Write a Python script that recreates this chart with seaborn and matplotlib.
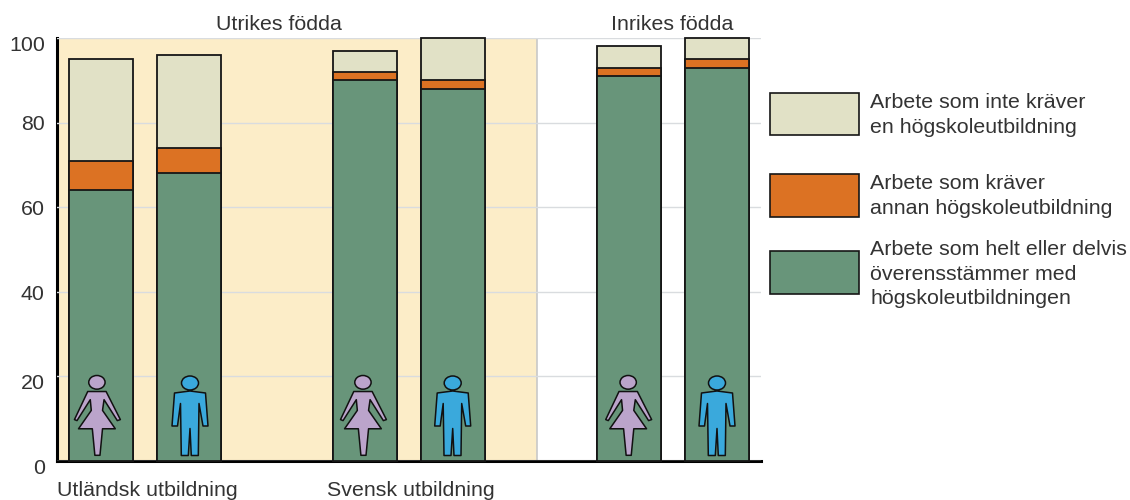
import matplotlib
matplotlib.use("Agg")
import matplotlib.pyplot as plt
from matplotlib.patches import Rectangle
from matplotlib.path import Path
from matplotlib.transforms import ScaledTranslation
import pandas as pd
import seaborn as sns

# varden avlasta fran bilden (procent)
grupper = ["ut_k", "ut_m", "gap1", "sv_k", "sv_m", "gap2", "in_k", "in_m"]
staplar = ["ut_k", "ut_m", "sv_k", "sv_m", "in_k", "in_m"]
kon = ["k", "m", "k", "m", "k", "m"]
overens = [64, 68, 90, 88, 91, 93]
annan = [7, 6, 2, 2, 2, 2]
inte_krav = [24, 22, 5, 10, 5, 5]
yticks = [0, 20, 40, 60, 80, 100]

legend_texter = ["Arbete som inte kräver\nen högskoleutbildning",
                 "Arbete som kräver\nannan högskoleutbildning",
                 "Arbete som helt eller delvis\növerensstämmer med\nhögskoleutbildningen"]

GRON = "#68957a"
ORANGE = "#dc7223"
BEIGE = "#e1e1c6"
BAKGRUND = "#fcedc8"
KVINNA = "#bba4cb"
MAN = "#3aa9dc"
TEXT = "#333333"
FS = 15.4

W, H = 1130, 500


def ikon(kropp, huvud, dx):
    # kropp + ellips till en enda marker-path, dx = forskjutning i pixlar fran stapelns mitt
    cx, cy, rx, ry = huvud
    cirkel = Path.unit_circle()
    verts = [(dx + cx + x * rx, cy + y * ry) for x, y in cirkel.vertices]
    kropp = [(x + dx, y) for x, y in kropp]
    kropp_path = Path(kropp + [kropp[0]], closed=True)
    return Path.make_compound_path(kropp_path, Path(verts, cirkel.codes))


# pixlar relativt ikonens mitt, y uppat
KVINNA_KROPP = [(-9, 23.5), (9, 23.5), (23, -4), (20, -5), (7, 15.5), (5.5, 5), (18, -13), (5.5, -13), (3, -39),
                (-2, -39), (-4.5, -13), (-18, -13), (-5.5, 5), (-6.5, 15.5), (-19.5, -5), (-22, -4)]
MAN_KROPP = [(-15.5, 22.5), (0, 24.5), (15.5, 22.5), (18, -10.5), (13, -10.5), (9, 12), (8.3, -40), (1.3, -40),
             (0, -13), (-1.7, -40), (-8.7, -40), (-9.5, 12), (-12.5, -10.5), (-18, -10.5)]

df = pd.DataFrame({"grupp": staplar, "kon": kon, "overens": overens, "annan": annan, "inte_krav": inte_krav})
df["mitten"] = df["overens"] + df["annan"]
df["topp"] = df["mitten"] + df["inte_krav"]
df["ikon_y"] = 10.9
df["dx"] = [-4.5, 0.5, -2.5, -0.8, -1.3, -0.5]

plt.rcParams["font.family"] = ["Liberation Sans", "DejaVu Sans"]
fig = plt.figure(figsize=(W / 100, H / 100), dpi=100)
ax = fig.add_axes([57 / W, 1 - 461 / H, (761 - 57) / W, (461 - 38) / H])

# rita uppifran och ner, varje lager tacker det under
for kol, farg in [("topp", BEIGE), ("mitten", ORANGE), ("overens", GRON)]:
    sns.barplot(data=df, x="grupp", y=kol, order=grupper, color=farg, saturation=1, width=0.716,
                edgecolor="#161616", linewidth=1.3, errorbar=None, ax=ax, zorder=3, clip_on=False)

for _, rad in df.iterrows():
    if rad["kon"] == "k":
        marker = ikon(KVINNA_KROPP, (0, 32.5, 8, 6.7), rad["dx"])
        farg = KVINNA
    else:
        marker = ikon(MAN_KROPP, (0, 32.5, 8.5, 7), rad["dx"])
        farg = MAN
    sns.scatterplot(data=df[df["grupp"] == rad["grupp"]], x="grupp", y="ikon_y", marker=marker, s=3318,
                    color=farg, edgecolor="#111111", linewidth=1.1, ax=ax, zorder=4, legend=False)

ax.set_xlim(-0.5, 7.5)
ax.set_ylim(0, 100)
ax.axvspan(-0.5, 4.95, color=BAKGRUND, lw=0, zorder=0)
ax.axvline(4.95, color="#c8c8c8", lw=1.2, zorder=1)
ax.set_yticks(yticks)
ax.yaxis.grid(True, color="#d9dcdf", lw=1)
ax.set_axisbelow(False)
for l in ax.get_ygridlines():
    l.set_zorder(1)
ax.set(xlabel=None, ylabel=None)
ax.set_xticks([])
ax.tick_params(axis="y", length=0, pad=8.8, labelsize=FS, labelcolor=TEXT)
for s in ["top", "right"]:
    ax.spines[s].set_visible(False)
for s in ["left", "bottom"]:
    ax.spines[s].set_linewidth(2.2)
    ax.spines[s].set_color("#000000")

# etiketterna sitter lite forskjutna i originalet
for lab, dy in zip(ax.get_yticklabels(), [6, 5, 1, 0, 0, 5]):
    lab.set_transform(lab.get_transform() + ScaledTranslation(0, -dy / 100, fig.dpi_scale_trans))


def px_text(x, y, s):
    fig.text(x / W, 1 - y / H, s, fontsize=FS, color=TEXT, va="center")


px_text(216, 25, "Utrikes födda")
px_text(611, 25, "Inrikes födda")
px_text(57, 491, "Utländsk utbildning")
px_text(327, 491, "Svensk utbildning")

# legend
rutor = [(93, 135, BEIGE, 115), (174, 217, ORANGE, 196), (251, 294, GRON, 274)]
for (y0, y1, farg, yt), txt in zip(rutor, legend_texter):
    fig.add_artist(Rectangle((770 / W, 1 - y1 / H), 89 / W, (y1 - y0) / H, transform=fig.transFigure,
                             facecolor=farg, edgecolor="#161616", lw=1.2))
    fig.text(870 / W, 1 - yt / H, txt, fontsize=FS, color=TEXT, va="center", linespacing=1.357)

plt.savefig("out.png", dpi=100)
plt.close()
